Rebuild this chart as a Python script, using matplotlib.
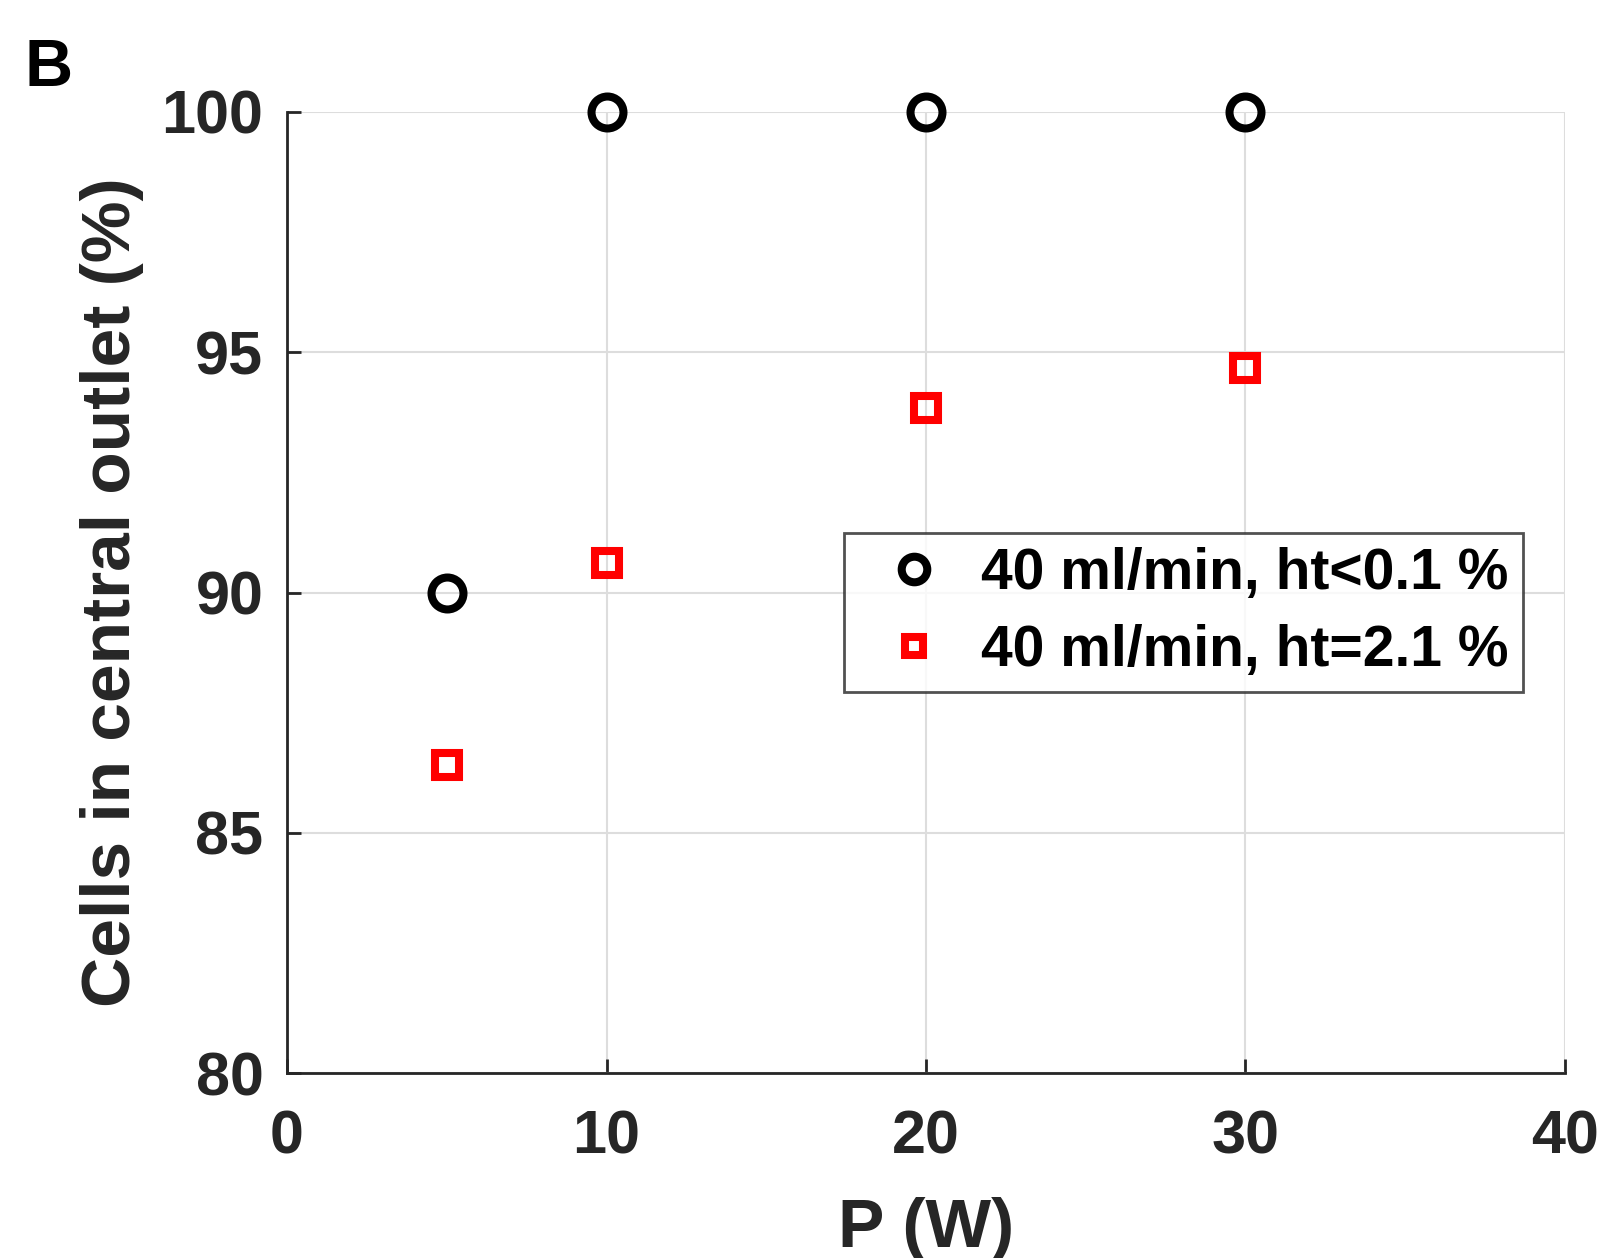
import matplotlib.pyplot as plt

# data
power = [5, 10, 20, 30]
cells_low_ht = [90, 100, 100, 100]
cells_high_ht = [86.42, 90.62, 93.85, 94.68]
labels = ["40 ml/min, ht<0.1 %", "40 ml/min, ht=2.1 %"]

plt.rcParams['font.family'] = ['Liberation Sans', 'DejaVu Sans']
plt.rcParams['font.weight'] = 'bold'

fig = plt.figure(figsize=(16.01, 12.58), dpi=100)
ax = fig.add_axes([0.1793, 0.147, 0.7982, 0.764])

ax.plot(power, cells_low_ht, ls='none', marker='o', ms=23, mew=5.8,
        mfc='none', mec='black', label=labels[0], clip_on=False, zorder=5)
ax.plot(power, cells_high_ht, ls='none', marker='s', ms=17, mew=5.8,
        mfc='none', mec='#ff0000', label=labels[1], clip_on=False, zorder=5)

ax.set_xlim(0, 40)
ax.set_ylim(80, 100)
ax.set_xticks([0, 10, 20, 30, 40])
ax.set_yticks([80, 85, 90, 95, 100])
ax.grid(True, color='#dddddd', lw=1.5)
ax.set_axisbelow(True)

for side in ['top', 'right']:
    ax.spines[side].set_visible(False)
for side in ['left', 'bottom']:
    ax.spines[side].set_color('#262626')
    ax.spines[side].set_linewidth(2)

ax.tick_params(direction='in', length=10, width=2, color='#262626',
               labelsize=44, labelcolor='#262626')
ax.tick_params(axis='x', pad=26)
ax.tick_params(axis='y', pad=17)

ax.set_xlabel('P (W)', fontsize=50, fontweight='bold', color='#262626',
              labelpad=22)
ax.set_ylabel('Cells in central outlet (%)', fontsize=50, fontweight='bold',
              color='#262626', labelpad=13)

leg = ax.legend(loc='upper right', bbox_to_anchor=(0.967, 0.562),
                borderaxespad=0, fontsize=41, frameon=True, fancybox=False,
                handletextpad=0.2, handlelength=1.95, borderpad=0.25,
                labelspacing=0.4, markerscale=0.8)
leg.get_frame().set_edgecolor('#262626')
leg.get_frame().set_linewidth(2)
for t in leg.get_texts():
    t.set_color('black')

fig.text(0.015, 0.932, 'B', fontsize=48, fontweight='bold', color='black')

fig.savefig('out.png', dpi=100)
